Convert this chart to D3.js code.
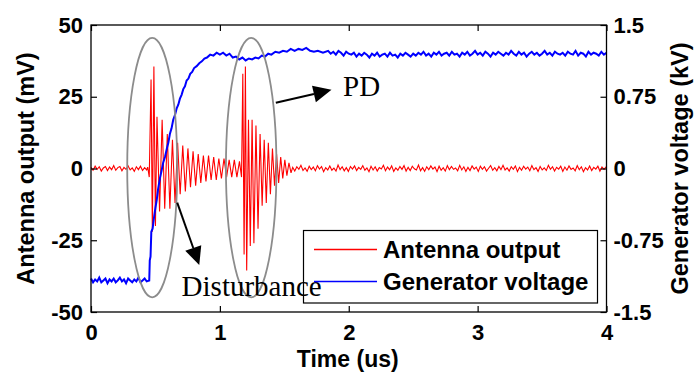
<!DOCTYPE html>
<html>
<head>
<meta charset="utf-8">
<script src="https://cdn.jsdelivr.net/npm/d3@7"></script>
<style>
  body { margin: 0; background: #fff; }
  svg text { font-family: "Liberation Sans", Arial, sans-serif; font-weight: bold; }
</style>
</head>
<body>
<div id="chart"></div>
<script>
// tick labels
const xTicks = [0, 1, 2, 3, 4];
const mvTicks = [-50, -25, 0, 25, 50];
const kvTicks = [-1.5, -0.75, 0, 0.75, 1.5];

// antenna output (mV): sampled segments (start time us, step us, values) and read-off [t, mV] pairs
const redPre = {t0: 0, dt: 0.016, v: [
  0.4,-0.6,0.8,-0.3,0.6,-0.9,0.2,0.7,-0.7,0.5,-0.4,1,-0.6,0.3,
  0.7,-0.8,0.4,-0.3,0.9,-0.5,0.2,-1,0.6,-0.4,0.8,-0.7,0.3,-0.5]};
const redBursts = [
  [0.44,0.5],[0.452,-3],[0.466,31],[0.476,-22],[0.488,35.5],[0.5,-20],
  [0.512,18],[0.532,-15],[0.552,17],[0.572,-14],[0.592,12],[0.612,-14],[0.632,10],[0.652,-12],[0.672,9],[0.692,-9],
  [0.712,8],[0.732,-8],[0.752,7],[0.772,-6.5],[0.792,6],[0.812,-6],[0.832,5],[0.852,-5],[0.872,4.5],[0.892,-4.5],
  [0.912,4.5],[0.932,-4],[0.952,4],[0.972,-4],[0.992,3.5],[1.012,-3.5],[1.032,3.5],[1.052,-3],[1.072,3],[1.092,-3],
  [1.112,3],[1.132,-3],[1.152,2.5],[1.168,-3],
  [1.178,33],[1.188,-30],[1.198,35.5],[1.208,-35.5],[1.222,17],[1.236,-27],[1.25,17],[1.264,-26],[1.28,15],[1.296,-21],
  [1.312,12],[1.328,-13],[1.344,10],[1.36,-12],[1.376,9],[1.392,-9],[1.408,7],[1.424,-6],[1.44,5],[1.456,-5],
  [1.472,4],[1.488,-3.5],[1.504,3],[1.52,-2.5],[1.536,2],[1.552,-1.5]];
const redPost = {t0: 1.565, dt: 0.016, v: [
  0.4,-0.9,0.6,-0.3,1.1,-0.7,0.2,-1,0.8,-0.4,0.5,-0.8,1,-0.2,0.7,-1.1,0.3,
  -0.5,0.9,-0.6,0.1,-0.9,1.2,-0.4,0.6,-0.8,0.3,-1,0.7,-0.2,0.9,-0.7,0.4,-0.3,
  1,-0.6,0.2,-1.1,0.8,-0.5,0.6,-0.9,0.3,-0.2,1.1,-0.8,0.5,-0.4,0.9,-1,0.2,
  -0.6,0.7,-0.3,1,-0.9,0.4,-0.7,0.8,-0.1,-0.5,1.2,-0.8,0.3,-1,0.6,-0.4,0.9,
  -0.2,0.5,-1.1,0.8,-0.6,0.3,-0.9,1,-0.4,0.7,-0.3,0.2,-0.8,1.1,-0.5,0.6,-1,
  0.4,-0.7,0.9,-0.2,0.5,-1,0.8,-0.3,0.6,-0.9,0.1,1,-0.6,0.3,-0.8,0.7,-0.4,
  1.1,-0.5,0.2,-0.9,0.6,-0.3,0.9,-1.1,0.4,-0.6,0.8,-0.2,0.5,-0.8,1,-0.4,0.3,
  -1,0.7,-0.5,0.2,-0.7,1.1,-0.3,0.6,-0.9,0.4,-0.2,0.8,-1,0.5,-0.6,0.9,-0.3,
  0.2,-0.8,1,-0.4,0.6,-1.1,0.3,-0.5,0.9,-0.7,0.4,-0.2,0.8,-0.9,0.5,-0.3,0.6]};

// generator voltage (kV)
const bluePre = {t0: 0, dt: 0.016, v: [
  -1.15,-1.19,-1.16,-1.18,-1.14,-1.19,-1.17,-1.15,-1.2,-1.16,-1.18,-1.15,-1.19,-1.17,
  -1.14,-1.18,-1.16,-1.2,-1.15,-1.17,-1.19,-1.16,-1.18,-1.14,-1.19,-1.17,-1.15,-1.18]};
const blueRise = [[0.452,-1.17],[0.456,-0.96],[0.462,-0.92],[0.468,-0.66],[0.478,-0.63],[0.49,-0.5],[0.5,-0.41],[0.51,-0.33],[0.52,-0.22],[0.535,-0.1],
  [0.548,-0.02],[0.56,0.06],[0.574,0.12],[0.587,0.2],[0.6,0.27],[0.612,0.36],[0.625,0.42],[0.638,0.51],[0.652,0.56],[0.665,0.63],
  [0.678,0.67],[0.69,0.73],[0.703,0.77],[0.716,0.83],[0.729,0.86],[0.742,0.92],[0.756,0.94],[0.77,0.99],[0.785,1.01],[0.8,1.05],
  [0.82,1.07],[0.84,1.1],[0.86,1.12],[0.88,1.15],[0.9,1.16],[0.925,1.19],[0.95,1.18],[0.975,1.21],[1.0,1.19],[1.025,1.21],
  [1.05,1.18],[1.075,1.2],[1.1,1.16],[1.125,1.17],[1.15,1.14],[1.175,1.16],[1.2,1.13],[1.225,1.15],[1.25,1.14],[1.275,1.16],
  [1.3,1.15],[1.325,1.18],[1.35,1.17],[1.375,1.2],[1.4,1.19],[1.43,1.22],[1.46,1.21],[1.49,1.23],[1.52,1.22],[1.55,1.25],
  [1.58,1.23],[1.61,1.25],[1.64,1.24],[1.67,1.26],[1.7,1.23],[1.73,1.22],[1.76,1.23],[1.8,1.21]];
const blueTail = {t0: 1.84, dt: 0.02, v: [
  1.23,1.2,1.22,1.19,1.23,1.21,1.18,1.22,1.2,1.19,1.21,1.17,1.2,1.18,1.21,1.19,1.16,1.2,
  1.18,1.21,1.17,1.19,1.2,1.17,1.21,1.18,1.19,1.16,1.2,1.18,1.21,1.19,1.17,1.2,1.18,1.21,
  1.19,1.22,1.18,1.2,1.17,1.21,1.19,1.22,1.18,1.2,1.21,1.18,1.22,1.19,1.2,1.17,1.21,1.19,
  1.22,1.18,1.2,1.23,1.19,1.21,1.18,1.22,1.2,1.17,1.21,1.19,1.22,1.2,1.18,1.21,1.19,1.23,
  1.2,1.18,1.22,1.19,1.21,1.17,1.2,1.22,1.19,1.21,1.18,1.2,1.23,1.19,1.21,1.18,1.22,1.2,
  1.19,1.21,1.18,1.22,1.2,1.19,1.23,1.18,1.21,1.2,1.17,1.22,1.19,1.21,1.2,1.18,1.22,1.19,1.21]};

// annotations, in data units (us, mV)
const ellipses = [{t: 0.475, mv: 0.3, rt: 0.194, rmv: 45.2}, {t: 1.243, mv: 0.3, rt: 0.196, rmv: 45.2}];
const arrows = [{t1: 1.434, v1: 22.9, t2: 1.866, v2: 27.4}, {t1: 0.669, v1: -11.9, t2: 0.84, v2: -33.6}];
const notes = [{text: "PD", t: 1.956, mv: 25.3}, {text: "Disturbance", t: 0.703, mv: -44.4}];

const W = 694, H = 372;
const pL = 91, pR = 606.5, pT = 25, pB = 312;

const x = d3.scaleLinear().domain([0, 4]).range([pL, pR]);
const yL = d3.scaleLinear().domain([-50, 50]).range([pB, pT]);
const yR = d3.scaleLinear().domain([-1.5, 1.5]).range([pB, pT]);

const svg = d3.select('#chart').append('svg')
  .attr('width', W).attr('height', H);

function expand(seg) {
  return seg.v.map((v, i) => [seg.t0 + i * seg.dt, v]);
}
const redData = [].concat(expand(redPre), redBursts, expand(redPost));
const blueData = [].concat(expand(bluePre), blueRise, expand(blueTail));

svg.append('path')
  .datum(redData)
  .attr('fill', 'none')
  .attr('stroke', '#ff0000')
  .attr('stroke-width', 1.1)
  .attr('d', d3.line().x(d => x(d[0])).y(d => yL(d[1])));

svg.append('path')
  .datum(blueData)
  .attr('fill', 'none')
  .attr('stroke', '#0000ff')
  .attr('stroke-width', 2)
  .attr('d', d3.line().x(d => x(d[0])).y(d => yR(d[1])));

// axes (ticks point inward)
const fmt = d => String(d);
const tickFont = g => g.selectAll('text')
  .attr('fill', '#000').style('font-size', '22px')
  .style('font-family', '"Liberation Sans", Arial, sans-serif').style('font-weight', 'bold');

svg.append('g').attr('transform', `translate(0,${pB})`)
  .call(d3.axisBottom(x).tickValues(xTicks).tickSize(-6).tickPadding(12).tickFormat(fmt))
  .call(tickFont);
svg.append('g').attr('transform', `translate(0,${pT})`)
  .call(d3.axisTop(x).tickValues(xTicks).tickSize(-6).tickFormat(''));
svg.append('g').attr('transform', `translate(${pL},0)`)
  .call(d3.axisLeft(yL).tickValues(mvTicks).tickSize(-6).tickPadding(8).tickFormat(fmt))
  .call(tickFont);
svg.append('g').attr('transform', `translate(${pR},0)`)
  .call(d3.axisRight(yR).tickValues(kvTicks).tickSize(-6).tickPadding(7).tickFormat(fmt))
  .call(tickFont);
svg.selectAll('.domain').remove();
svg.selectAll('.tick line').attr('stroke', '#000').attr('stroke-width', 1.2);

svg.append('rect')
  .attr('x', pL).attr('y', pT)
  .attr('width', pR - pL).attr('height', pB - pT)
  .attr('fill', 'none').attr('stroke', '#000').attr('stroke-width', 1.3);

// axis titles
svg.append('text')
  .attr('transform', `translate(26,${(pT + pB) / 2}) rotate(-90)`)
  .attr('text-anchor', 'middle').attr('dy', '0.35em')
  .style('font-size', '23.5px')
  .text('Antenna output (mV)');
svg.append('text')
  .attr('transform', `translate(680,${(pT + pB) / 2}) rotate(-90)`)
  .attr('text-anchor', 'middle').attr('dy', '0.35em')
  .style('font-size', '23.5px')
  .text('Generator voltage (kV)');
svg.append('text')
  .attr('x', (pL + pR) / 2 - 1).attr('y', 367)
  .attr('text-anchor', 'middle')
  .style('font-size', '23px')
  .text('Time (us)');

// ellipses
svg.selectAll('.ell').data(ellipses).enter().append('ellipse')
  .attr('class', 'ell')
  .attr('cx', d => x(d.t)).attr('cy', d => yL(d.mv))
  .attr('rx', d => x(d.rt) - x(0)).attr('ry', d => yL(0) - yL(d.rmv))
  .attr('fill', 'none').attr('stroke', '#8c8c8c').attr('stroke-width', 1.8);

// arrows
arrows.forEach(a => {
  const x1 = x(a.t1), y1 = yL(a.v1), x2 = x(a.t2), y2 = yL(a.v2);
  const ang = Math.atan2(y2 - y1, x2 - x1);
  const hl = 18, hw = 8.5;
  const bx = x2 - hl * Math.cos(ang), by = y2 - hl * Math.sin(ang);
  svg.append('line')
    .attr('x1', x1).attr('y1', y1).attr('x2', bx).attr('y2', by)
    .attr('stroke', '#000').attr('stroke-width', 2);
  const px = -Math.sin(ang) * hw, py = Math.cos(ang) * hw;
  svg.append('polygon')
    .attr('points', [[x2, y2], [bx + px, by + py], [bx - px, by - py]].map(p => p.join(',')).join(' '))
    .attr('fill', '#000');
});

// legend box, then the notes, then legend entries
svg.append('rect')
  .attr('x', 303.5).attr('y', 230.5).attr('width', 294).attr('height', 72.5)
  .attr('fill', '#fff').attr('stroke', '#000').attr('stroke-width', 1.2);

svg.selectAll('.note').data(notes).enter().append('text')
  .attr('class', 'note')
  .attr('x', d => x(d.t)).attr('y', d => yL(d.mv))
  .style('font-family', '"Liberation Serif", "Times New Roman", serif')
  .style('font-weight', 'normal')
  .style('font-size', '29px')
  .text(d => d.text);

const legendItems = [{name: 'Antenna output', color: '#ff0000', y: 249.5}, {name: 'Generator voltage', color: '#0000ff', y: 281.5}];
legendItems.forEach(it => {
  svg.append('line')
    .attr('x1', 314).attr('x2', 377).attr('y1', it.y).attr('y2', it.y)
    .attr('stroke', it.color).attr('stroke-width', 1.6);
  svg.append('text')
    .attr('x', 383).attr('y', it.y).attr('dy', '0.36em')
    .style('font-size', '24px')
    .text(it.name);
});
</script>
</body>
</html>
